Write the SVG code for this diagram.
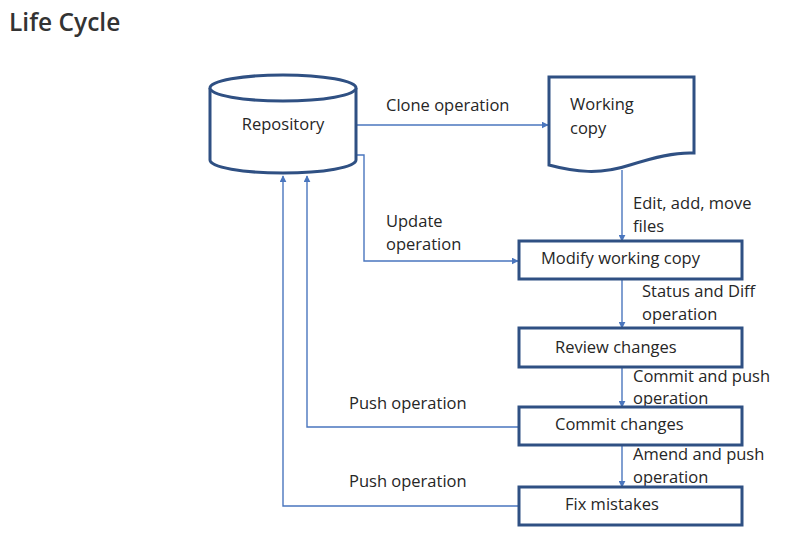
<svg xmlns="http://www.w3.org/2000/svg" width="789" height="537" viewBox="0 0 789 537">
<style>
.node{fill:#fff;stroke:#2F5083;stroke-width:3}
.t{font-family:"Open Sans","Noto Sans",sans-serif;font-size:16.5px;fill:#262626}
.c{fill:none;stroke:#4A76BE;stroke-width:1.4}
.title{font-family:"Open Sans","Noto Sans",sans-serif;font-size:24.5px;font-weight:600;fill:#333}
</style>
<defs>
<marker id="ah" viewBox="0 0 10 10" refX="9" refY="5" markerWidth="7" markerHeight="7" markerUnits="userSpaceOnUse" orient="auto">
<path d="M0,0 L10,5 L0,10 Z" fill="#4A76BE"/>
</marker>
</defs>
<rect width="789" height="537" fill="#fff"/>
<text class="title" x="9" y="31">Life Cycle</text>

<g id="connectors">
<path class="c" d="M357,125 H548" marker-end="url(#ah)"/>
<path class="c" d="M357,155 H364 V261 H518" marker-end="url(#ah)"/>
<path class="c" d="M622,170 V241" marker-end="url(#ah)"/>
<path class="c" d="M622,279 V328" marker-end="url(#ah)"/>
<path class="c" d="M622,367 V407" marker-end="url(#ah)"/>
<path class="c" d="M622,445 V487" marker-end="url(#ah)"/>
<path class="c" d="M519,427 H307 V176" marker-end="url(#ah)"/>
<path class="c" d="M519,506 H283 V176" marker-end="url(#ah)"/>
<text class="t" x="386" y="111">Clone operation</text>
<text class="t" x="386" y="227">Update</text>
<text class="t" x="386" y="250">operation</text>
<text class="t" x="633" y="209">Edit, add, move</text>
<text class="t" x="633" y="232">files</text>
<text class="t" x="642" y="297">Status and Diff</text>
<text class="t" x="642" y="320">operation</text>
<text class="t" x="633" y="382">Commit and push</text>
<text class="t" x="633" y="404">operation</text>
<text class="t" x="633" y="460">Amend and push</text>
<text class="t" x="633" y="483">operation</text>
<text class="t" x="349" y="409">Push operation</text>
<text class="t" x="349" y="487">Push operation</text>
</g>

<g id="repository">
<path class="node" d="M210,88 A73,13 0 0 1 356,88 V160 A73,13 0 0 1 210,160 Z"/>
<path class="node" d="M210,88 A73,13 0 0 0 356,88" fill="none"/>
<text class="t" x="283" y="130" text-anchor="middle">Repository</text>
</g>

<g id="working-copy">
<path class="node" d="M549,77 H694 V153 C675,152 655,157 630,165 C600,175 575,172 549,165 Z"/>
<text class="t" x="570" y="110">Working</text>
<text class="t" x="570" y="134">copy</text>
</g>

<g id="modify">
<rect class="node" x="519" y="241" width="223" height="38"/>
<text class="t" x="541" y="264">Modify working copy</text>
</g>

<g id="review">
<rect class="node" x="519" y="328" width="223" height="39"/>
<text class="t" x="555" y="353">Review changes</text>
</g>

<g id="commit">
<rect class="node" x="519" y="407" width="223" height="38"/>
<text class="t" x="555" y="430">Commit changes</text>
</g>

<g id="fix">
<rect class="node" x="519" y="487" width="223" height="38"/>
<text class="t" x="565" y="510">Fix mistakes</text>
</g>
</svg>
